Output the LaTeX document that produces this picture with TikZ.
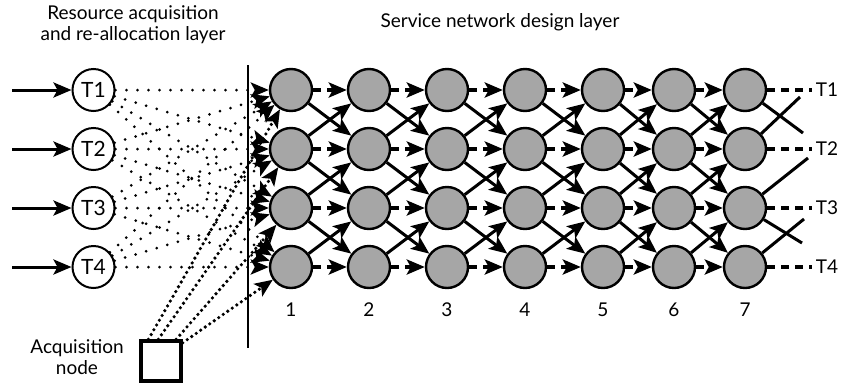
\documentclass[tikz,border=0pt]{standalone}
\usepackage{fontspec}
\setmainfont{Lato}
\usetikzlibrary{arrows.meta,positioning}
\definecolor{cellgray}{RGB}{166,166,166}

\begin{document}
\begin{tikzpicture}[x=1pt,y=-1pt,
    every node/.style={font=\fontsize{19}{21}\selectfont},
    task/.style={circle,draw,line width=2pt,fill=white,minimum size=42pt,inner sep=0pt,font=\fontsize{21}{22}\selectfont},
    cell/.style={circle,draw,line width=2.4pt,fill=cellgray,minimum size=42pt,inner sep=0pt},
    acqbox/.style={rectangle,draw,line width=3.4pt,minimum size=40pt,inner sep=0pt},
    input/.style={line width=3pt,-{Stealth[length=18pt,width=15pt,inset=4pt]}},
    flow/.style={line width=3.5pt,dash pattern=on 8pt off 6pt,-{Stealth[length=18pt,width=15pt,inset=4pt]}},
    move/.style={line width=3pt,-{Stealth[length=18pt,width=15pt,inset=4pt]}},
    tail/.style={line width=3.5pt,dash pattern=on 8pt off 6pt},
    cross/.style={line width=3pt},
    feed/.style={line width=3pt,line cap=round,dash pattern=on 0pt off 11pt,-{Stealth[length=18pt,width=15pt,inset=4pt]}},
    buy/.style={line width=3.6pt,line cap=round,dash pattern=on 0pt off 5.5pt,-{Stealth[length=18pt,width=15pt,inset=4pt]}}]

    \useasboundingbox (0,0) rectangle (843,389);

    % layer titles
    \node[align=center] (lefttitle) at (133,25) {Resource acquisition\\and re-allocation layer};
    \node (righttitle) at (500,22) {Service network design layer};

    % tasks on the left
    \foreach \r/\y in {1/90,2/149,3/208,4/267} {
        \node[task] (t\r) at (93.5,\y) {T\r};
        \coordinate (in\r) at (12,\y);
        \draw[input] (in\r) -- (t\r);
    }

    % layer border
    \coordinate (top) at (248,65);
    \coordinate (bot) at (248,348);
    \draw[line width=2.2pt] (top) -- (bot);

    % acquisition node
    \node[acqbox] (acq) at (161,361) {};
    \node[align=center] (acqtext) at (77,357) {Acquisition\\node};

    % service network
    \foreach \c/\x in {1/291,2/369,3/447,4/525,5/603,6/674,7/745} {
        \foreach \r/\y in {1/90,2/149,3/208,4/267}
            \node[cell] (c-\c-\r) at (\x,\y) {};
        \node (n\c) at (\x,310) {\c};
    }

    \foreach \c/\n in {1/2,2/3,3/4,4/5,5/6,6/7} {
        \foreach \r in {1,...,4}
            \draw[flow] (c-\c-\r) -- (c-\n-\r);
        \foreach \r/\s in {1/2,2/3,3/4} {
            \draw[move] (c-\c-\r) -- (c-\n-\s);
            \draw[move] (c-\c-\s) -- (c-\n-\r);
        }
    }

    % last period
    \foreach \r/\y in {1/90,2/149,3/208,4/267} {
        \node (out\r) at (827,\y) {T\r};
        \draw[tail] (c-7-\r) -- (out\r);
    }
    \coordinate (x1) at (803,133);
    \coordinate (x2) at (800,97);
    \coordinate (x3a) at (808,158);
    \coordinate (x3b) at (802,243);
    \coordinate (x4) at (804,219);
    \draw[cross] (c-7-1) -- (x1);
    \draw[cross] (c-7-2) -- (x2);
    \draw[cross] (c-7-3) -- (x3a);
    \draw[cross] (c-7-3) -- (x3b);
    \draw[cross] (c-7-4) -- (x4);

    % re-allocation of tasks
    \foreach \i in {1,...,4}
        \foreach \j in {1,...,4}
            \draw[feed] (t\i) -- (c-1-\j);

    % acquisition
    \draw[buy] (acq.120) -- (c-1-1);
    \draw[buy] (acq.97) -- (c-1-2);
    \draw[buy] (acq.55) -- (c-1-3);
    \draw[buy] (acq.40) -- (c-1-4);

\end{tikzpicture}
\end{document}
